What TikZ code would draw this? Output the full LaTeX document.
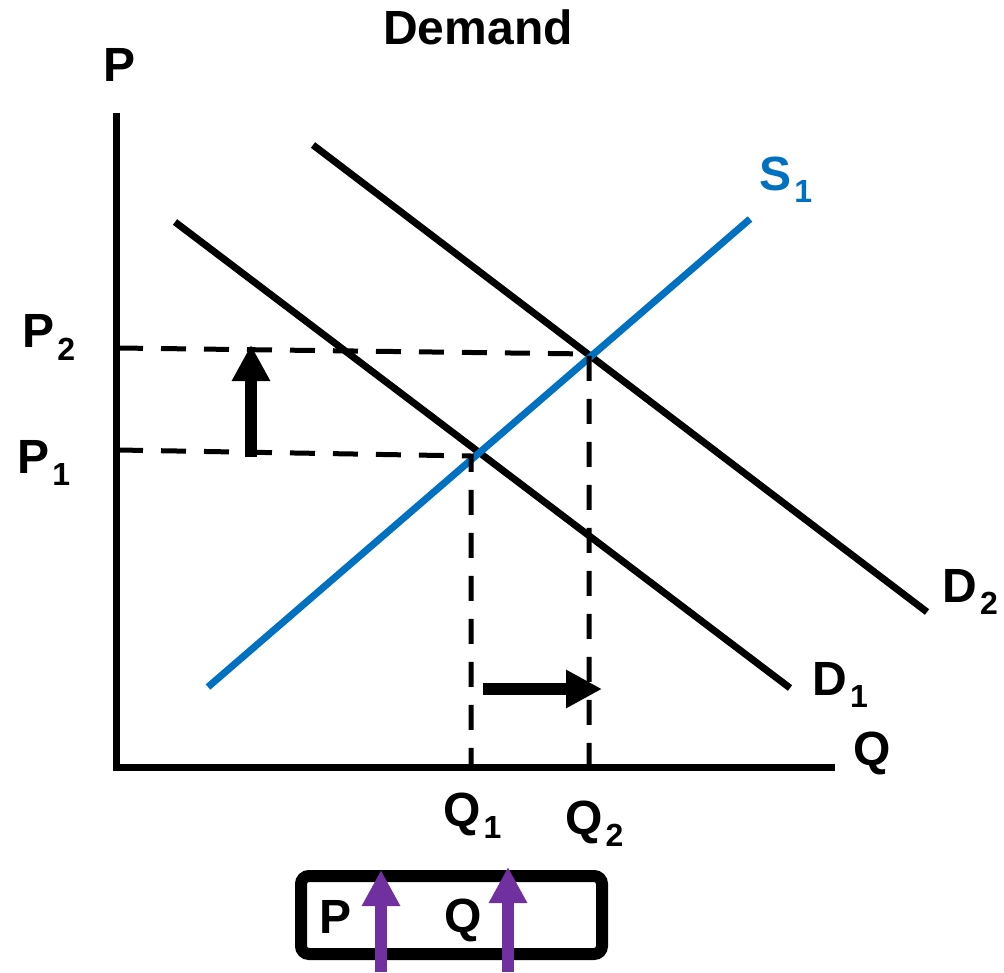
\documentclass[tikz,border=0pt]{standalone}
\usepackage{fontspec}
\setmainfont{Liberation Sans}
\usetikzlibrary{arrows.meta, positioning, calc}
\definecolor{supplyblue}{HTML}{0070C0}
\definecolor{boxpurple}{HTML}{7030A0}
\newcommand{\lbl}[2]{#1\kern1.5pt\raisebox{-6pt}{\fontsize{16}{18}\selectfont #2}}
\tikzset{
  axis/.style={line width=3.5pt},
  demand/.style={line width=3.5pt},
  supply/.style={line width=3.5pt, supplyblue},
  guide/.style={line width=2.5pt, dash pattern=on 12.5pt off 9pt},
  move/.style={line width=6pt, -{Triangle[length=18pt, width=18pt]}},
  rise/.style={line width=6pt, boxpurple, -{Triangle[length=18pt, width=18pt]}},
  panel/.style={draw, line width=6pt, rounded corners=4pt, minimum width=150.5pt, minimum height=39pt, inner sep=0pt},
  lab/.style={font=\fontsize{24}{28}\selectfont\bfseries, inner sep=0pt},
  every node/.style={font=\fontsize{24}{28}\selectfont\bfseries}
}

\begin{document}
\begin{tikzpicture}[x=0.5pt, y=-0.5pt]
    \useasboundingbox (0,0) rectangle (1004,972);

    % axes
    \coordinate (ytop) at (116,113);
    \coordinate (orig) at (116,767);
    \coordinate (xend) at (835,767);
    \draw[axis] (ytop) -- ($(orig)+(0,3.5)$) coordinate (ybot);
    \draw[axis] ($(orig)+(-3.5,0)$) -- (xend);

    % curves
    \coordinate (s1a) at (208,687);
    \coordinate (s1b) at (750,219);
    \coordinate (d1a) at (175,222);
    \coordinate (d1b) at (790,688);
    \coordinate (d2a) at (313,145);
    \coordinate (d2b) at (927,612);
    \draw[demand] (d1a) -- (d1b);
    \draw[demand] (d2a) -- (d2b);
    \draw[supply] (s1a) -- (s1b);

    % equilibria and guides
    \coordinate (e1) at (471,456);
    \coordinate (e2) at (589,354);
    \coordinate (p1) at (118,450);
    \coordinate (p2) at (118,348);
    \draw[guide] (p1) -- (e1) -- (e1 |- orig);
    \draw[guide] (p2) -- (e2) -- (e2 |- orig);

    % shift arrows
    \coordinate (upfrom) at (251,457);
    \coordinate (upto) at (251,345);
    \coordinate (rtfrom) at (483,689);
    \coordinate (rtto) at (602,689);
    \draw[move] (upfrom) -- (upto);
    \draw[move] (rtfrom) -- (rtto);

    % labels
    \node[lab, anchor=base] (title) at (478,45) {Demand};
    \node[lab, anchor=base] (plab) at (120,82) {P};
    \node[lab, anchor=base] (qlab) at (872,765) {Q};
    \node[lab, anchor=base west] (p2lab) at (22,348) {\lbl{P}{2}};
    \node[lab, anchor=base west] (p1lab) at (17,473) {\lbl{P}{1}};
    \node[lab, anchor=base west] (q1lab) at (443,826) {\lbl{Q}{1}};
    \node[lab, anchor=base west] (q2lab) at (565,834) {\lbl{Q}{2}};
    \node[lab, anchor=base west, text=supplyblue] (s1lab) at (759,191) {\lbl{S}{1}};
    \node[lab, anchor=base west] (d1lab) at (812,695) {\lbl{D}{1}};
    \node[lab, anchor=base west] (d2lab) at (942,602) {\lbl{D}{2}};

    % summary box
    \node[panel] (box) at (451.5,915) {};
    \node[lab, anchor=base] (boxp) at (336,933) {P};
    \node[lab, anchor=base] (boxq) at (463,932) {Q};
    \coordinate (pbot) at (381,972);
    \coordinate (qbot) at (508,972);
    \draw[rise] (pbot) -- (381,870);
    \draw[rise] (qbot) -- (508,867);
\end{tikzpicture}
\end{document}
